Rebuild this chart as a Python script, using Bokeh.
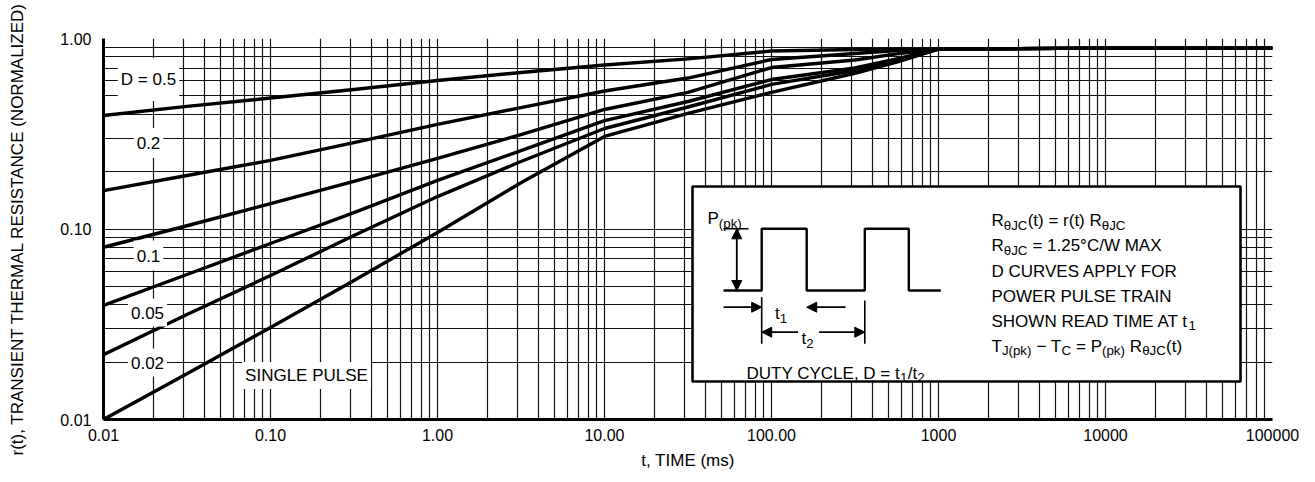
from bokeh.plotting import figure
from bokeh.models import Range1d, FixedTicker, Label, BoxAnnotation, Arrow, NormalHead
from bokeh.embed import file_html
from bokeh.resources import INLINE

# ---------------- data ----------------
t_ms = [0.01, 0.0316, 0.1, 0.316, 1.0, 3.16, 10.0, 31.6, 100.0, 316.0, 562.0, 1000.0, 10000.0, 100000.0]
r_d050 = [0.394, 0.440, 0.487, 0.540, 0.602, 0.663, 0.726, 0.782, 0.860, 0.875, 0.880, 0.880, 0.890, 0.890]
r_d020 = [0.159, 0.191, 0.229, 0.284, 0.354, 0.434, 0.530, 0.620, 0.776, 0.834, 0.865, 0.880, 0.890, 0.890]
r_d010 = [0.0802, 0.104, 0.136, 0.178, 0.235, 0.313, 0.424, 0.521, 0.704, 0.771, 0.831, 0.880, 0.890, 0.890]
r_d005 = [0.0397, 0.0577, 0.0839, 0.122, 0.180, 0.258, 0.371, 0.467, 0.609, 0.700, 0.782, 0.880, 0.890, 0.890]
r_d002 = [0.0219, 0.0356, 0.0570, 0.0924, 0.148, 0.226, 0.337, 0.437, 0.574, 0.679, 0.766, 0.880, 0.890, 0.890]
r_single = [0.0100, 0.0174, 0.0304, 0.0537, 0.0959, 0.175, 0.306, 0.404, 0.521, 0.657, 0.751, 0.880, 0.890, 0.890]

x_ticks = [0.01, 0.1, 1, 10, 100, 1000, 10000, 100000]
x_tick_labels = ["0.01", "0.10", "1.00", "10.00", "100.00", "1000", "10000", "100000"]
y_ticks = [0.01, 0.1, 1]
y_tick_labels = ["0.01", "0.10", "1.00"]
curve_labels = ["D = 0.5", "0.2", "0.1", "0.05", "0.02", "SINGLE PULSE"]

FONT = "Liberation Sans"

# ---------------- layout constants ----------------
FL, FT, FW, FH = 103, 38, 1169, 381   # frame in page pixels
DEC_X = FW / 7.0
DEC_Y = FH / 2.0


def fx(px):
    return 10 ** (-2 + (px - FL) / DEC_X)


def fy(py):
    return 10 ** (-(py - FT) / DEC_Y)


CW = {' ': 278, '(': 333, ')': 333, '=': 584, '.': 278, ',': 278, '/': 278, '°': 400, '−': 584, '-': 333,
      'A': 667, 'B': 667, 'C': 722, 'D': 722, 'E': 667, 'F': 611, 'G': 778, 'H': 722, 'I': 278, 'J': 500,
      'K': 667, 'L': 556, 'M': 833, 'N': 722, 'O': 778, 'P': 667, 'R': 722, 'S': 667, 'T': 611, 'U': 722,
      'V': 667, 'W': 944, 'X': 667, 'Y': 667, 'Z': 611, 'k': 500, 'p': 556, 'r': 333, 't': 278, 'θ': 556}
KERN = {"AT": -74, "TA": -74, "AY": -74, "YA": -74, "LT": -74, "LY": -74, "AV": -74, "VA": -74,
        "AW": -37, "WA": -37, "P,": -114, "Y,": -129, "T,": -111}


def tw(s, size):
    w = sum(CW.get(c, 556) for c in s)
    w += sum(KERN.get(s[i:i + 2], 0) for i in range(len(s) - 1))
    return w * size / 1000.0


p = figure(x_axis_type="log", y_axis_type="log",
           x_range=Range1d(0.01, 100000), y_range=Range1d(0.01, 1.0),
           frame_width=FW, frame_height=FH,
           min_border_left=FL, min_border_right=40, min_border_top=FT, min_border_bottom=60,
           output_backend="svg", toolbar_location=None)
p.outline_line_color = None
p.background_fill_color = "white"
p.border_fill_color = "white"

x_minor = [k * 10.0 ** e for e in range(-2, 5) for k in range(2, 10)]
y_minor = [k * 10.0 ** e for e in range(-2, 0) for k in range(2, 10)]
xt = FixedTicker(ticks=x_ticks, minor_ticks=x_minor)
yt = FixedTicker(ticks=y_ticks, minor_ticks=y_minor)
p.xaxis.ticker = xt
p.yaxis.ticker = yt
p.xgrid.ticker = xt
p.ygrid.ticker = yt
for g in (p.xgrid[0], p.ygrid[0]):
    g.grid_line_color = "#111111"
    g.grid_line_width = 1.2
    g.minor_grid_line_color = "#111111"
    g.minor_grid_line_width = 1.2

p.xaxis.major_label_overrides = dict(zip(x_ticks, x_tick_labels))
p.yaxis.major_label_overrides = dict(zip(y_ticks, y_tick_labels))

for ax in (p.xaxis[0], p.yaxis[0]):
    ax.axis_line_width = 3
    ax.axis_line_color = "black"
    ax.major_tick_line_color = None
    ax.minor_tick_line_color = None
    ax.major_tick_out = 0
    ax.major_tick_in = 0
    ax.minor_tick_out = 0
    ax.minor_tick_in = 0
    ax.major_label_text_font = FONT
    ax.major_label_text_font_size = "16px"
    ax.major_label_text_color = "black"
    ax.axis_label_text_font = FONT
    ax.axis_label_text_font_size = "17px"
    ax.axis_label_text_font_style = "normal"
    ax.axis_label_text_color = "black"

p.xaxis.major_label_standoff = 9
p.yaxis.major_label_standoff = 12
p.xaxis.axis_label = "t, TIME (ms)"
p.xaxis.axis_label_standoff = 7
p.yaxis.axis_label = "r(t), TRANSIENT THERMAL RESISTANCE (NORMALIZED)"
p.yaxis.axis_label_text_font_size = "17px"
p.yaxis.axis_label_standoff = 30

# ---------------- curves ----------------
for r in (r_d050, r_d020, r_d010, r_d005, r_d002, r_single):
    p.line(t_ms, r, line_color="black", line_width=3.4, line_join="round")

# ---------------- curve labels ----------------
label_pos = [(148, 79, 12), (148, 142.5, 9), (148, 255, 9), (147, 312, 8), (147, 362, 8), (306, 375, 4)]
for txt, (px, py, padx) in zip(curve_labels, label_pos):
    p.add_layout(Label(x=fx(px), y=fy(py), text=txt, text_align="center", text_baseline="middle",
                       text_font=FONT, text_font_size="17px", text_color="black",
                       background_fill_color="white", padding=(3, padx)))

# ---------------- inset ----------------
p.add_layout(BoxAnnotation(left=fx(692), right=fx(1240), top=fy(186), bottom=fy(381),
                           fill_color="white", fill_alpha=1.0, line_color="black", line_alpha=1.0,
                           line_width=2.6, level="underlay"))

pulse_px = [(723, 290), (761.2, 290), (761.2, 228.3), (806.2, 228.3), (806.2, 290), (864.3, 290),
            (864.3, 228.3), (908.3, 228.3), (908.3, 290), (940.3, 290)]
p.line([fx(a) for a, b in pulse_px], [fy(b) for a, b in pulse_px], line_color="black", line_width=2.4)
for seg in [((723, 228.3), (748, 228.3)), ((761.2, 296.7), (761.2, 343.3)), ((864.3, 300), (864.3, 343.3))]:
    (a, b), (c, d) = seg
    p.line([fx(a), fx(c)], [fy(b), fy(d)], line_color="black", line_width=1.6)


def head():
    return NormalHead(size=10, fill_color="black", line_color="black", line_width=1)


def arrow(a, b, c, d, both=False):
    p.add_layout(Arrow(x_start=fx(a), y_start=fy(b), x_end=fx(c), y_end=fy(d),
                       start=head() if both else None, end=head(),
                       line_color="black", line_width=1.8))


arrow(736.3, 290, 736.3, 228.3, both=True)
arrow(723, 306.7, 761.2, 306.7)
arrow(845, 306.7, 806.2, 306.7)
arrow(797.6, 331.7, 761.2, 331.7)
arrow(818.6, 331.7, 864.3, 331.7)

SIZE = 17
SUB = 0.78


def rich(px, py, segs, size=SIZE):
    x = px
    for text, sub in segs:
        fs = size * SUB if sub else size
        body = text.strip(" ")
        lead = len(text) - len(text.lstrip(" "))
        trail = len(text) - len(text.rstrip(" "))
        x += tw(" " * lead, fs)
        p.add_layout(Label(x=fx(x), y=fy(py + (4.5 if sub else 0)), text=body,
                           text_align="left", text_baseline="alphabetic",
                           text_font=FONT, text_font_size="%.1fpx" % fs, text_color="black"))
        x += tw(body, fs) + tw(" " * trail, fs) + (0.3 if sub else 0)


rich(707, 218, [("P", 0), ("(pk)", 1)])
rich(774.5, 313, [("t", 0), ("1", 1)])
rich(801, 338, [("t", 0), ("2", 1)])
rich(746, 372.5, [("DUTY CYCLE, D = t", 0), ("1", 1), ("/t", 0), ("2", 1)])

X0 = 991
rich(X0, 220, [("R", 0), ("θJC", 1), ("(t) = r(t) R", 0), ("θJC", 1)])
rich(X0, 245, [("R", 0), ("θJC", 1), (" = 1.25°C/W MAX", 0)])
rich(X0, 270.5, [("D CURVES APPLY FOR", 0)])
rich(X0, 295.5, [("POWER PULSE TRAIN", 0)])
rich(X0, 320.5, [("SHOWN READ TIME AT t", 0), ("1", 1)])
rich(X0, 345.5, [("T", 0), ("J(pk)", 1), (" − T", 0), ("C", 1), (" = P", 0), ("(pk)", 1),
                 (" R", 0), ("θJC", 1), ("(t)", 0)])

open("out.html", "w").write(file_html(p, INLINE))
